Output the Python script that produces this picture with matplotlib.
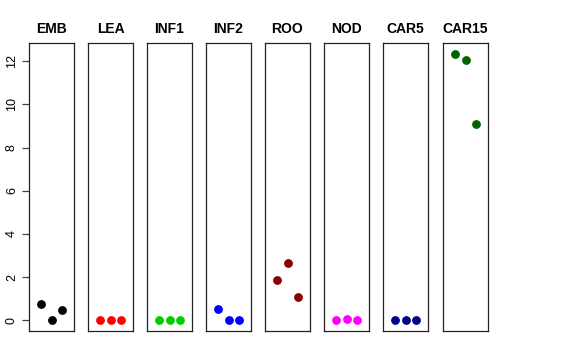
import numpy as np
import matplotlib.pyplot as plt

plt.rcParams['font.family'] = ['Liberation Sans', 'DejaVu Sans']

tissues = ['EMB', 'LEA', 'INF1', 'INF2', 'ROO', 'NOD', 'CAR5', 'CAR15']
colors = ['black', 'red', '#00CD00', 'blue', '#8B0000', 'magenta', '#00008B', '#006400']
values = [
    [0.75, 0.0, 0.5],
    [0.0, 0.0, 0.0],
    [0.0, 0.0, 0.0],
    [0.55, 0.0, 0.0],
    [1.85, 2.68, 1.1],
    [0.0, 0.05, 0.0],
    [0.0, 0.0, 0.0],
    [12.35, 12.06, 9.1],
]
reps = [1, 2, 3]

fig = plt.figure(figsize=(5.76, 3.6), dpi=100)
W, H = 576, 360
lefts = [29, 88, 147, 206, 265, 324, 383, 443]
for i, name in enumerate(tissues):
    ax = fig.add_axes([lefts[i] / W, 29 / H, 45 / W, 288 / H])
    ax.plot(reps, values[i], 'o', color=colors[i], markersize=5.3)
    ax.set_xlim(-0.16, 4.16)
    ax.set_ylim(-0.49, 12.84)
    ax.set_xticks([])
    ax.set_title(name, fontsize=10, fontweight='bold', pad=7)
    for s in ax.spines.values():
        s.set_color('#222222')
        s.set_linewidth(0.9)
    if i == 0:
        ax.set_yticks([0, 2, 4, 6, 8, 10, 12])
        ax.tick_params(axis='y', length=5, width=0.9, color='#444444',
                       labelsize=9, pad=3, labelrotation=90)
        for lbl in ax.get_yticklabels():
            lbl.set_va('center')
    else:
        ax.set_yticks([])

fig.savefig('out.png', dpi=100)
